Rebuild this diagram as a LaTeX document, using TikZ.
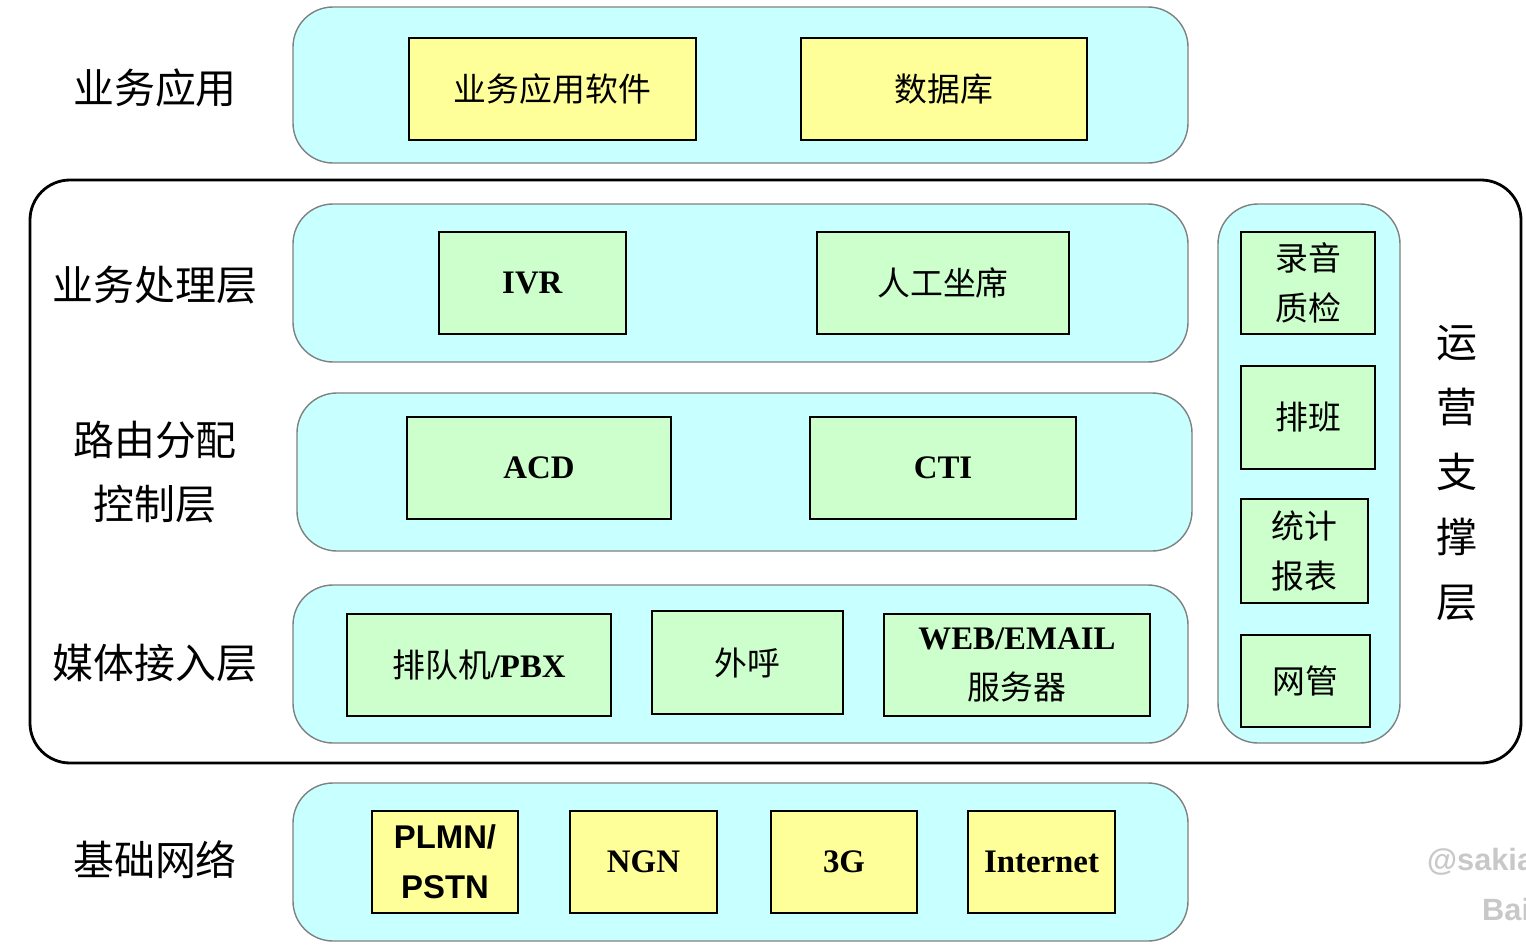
\documentclass[tikz,border=0pt]{standalone}
\usepackage{fontspec}
\setmainfont{Liberation Serif}
\newfontfamily\cjk{Noto Sans CJK SC}
\newfontfamily\arialfont{Liberation Sans}
\usetikzlibrary{positioning,fit}
\definecolor{layercyan}{HTML}{C8FFFF}
\definecolor{boxgreen}{HTML}{CCFFCC}
\definecolor{boxyellow}{HTML}{FFFF99}
\definecolor{markgray}{HTML}{C8C8C8}
\tikzset{
	layer/.style={rounded corners=0.8cm,fill=layercyan,draw=gray,line width=0.8pt,inner sep=0},
	frame/.style={rounded corners=0.8cm,draw=black,line width=1.6pt,inner sep=0},
	sz/.style 2 args={minimum width=#1*0.02cm,minimum height=#2*0.02cm},
	gbox/.style={fill=boxgreen,draw=black,line width=0.9pt,inner sep=0,align=center,font=\fontsize{18.7}{28.5}\selectfont},
	ybox/.style={gbox,fill=boxyellow},
	lbl/.style={align=center,font=\fontsize{23.3}{36}\selectfont\cjk},
	wmark/.style={anchor=west,text=markgray,font=\fontsize{17.5}{20}\selectfont\arialfont\bfseries}
}

\begin{document}
\begin{tikzpicture}[x=0.02cm,y=-0.02cm]
	\useasboundingbox (0,0) rectangle (1526,950);
	
	%%%outer frame
	\node[frame,fit={(30,180) (1521,763)}] (outer) {};
	
	%%%layers
	\node[layer,fit={(293,7) (1188,163)}] (app) {};
	\node[layer,fit={(293,204) (1188,362)}] (proc) {};
	\node[layer,fit={(297,393) (1192,551)}] (route) {};
	\node[layer,fit={(293,585) (1188,743)}] (media) {};
	\node[layer,fit={(293,783) (1188,941)}] (net) {};
	\node[layer,fit={(1218,204) (1400,743)}] (ops) {};
	
	%%%layer labels
	\node[lbl] (l-app) at (155,88) {业务应用};
	\node[lbl] (l-proc) at (155,285) {业务处理层};
	\node[lbl] (l-route) at (155,472) {路由分配\\控制层};
	\node[lbl] (l-media) at (155,663) {媒体接入层};
	\node[lbl] (l-net) at (155,860) {基础网络};
	\node[lbl,font=\fontsize{23.3}{37}\selectfont\cjk] (l-ops) at (1457,473) {运\\营\\支\\撑\\层};
	
	%%%business application
	\node[ybox,sz={287}{102}] (soft) at (552.5,89) {\cjk 业务应用软件};
	\node[ybox,sz={286}{102}] (db) at (944,89) {\cjk 数据库};
	
	%%%business processing
	\node[gbox,sz={187}{102}] (ivr) at (532.5,283) {\textbf{IVR}};
	\node[gbox,sz={252}{102}] (agent) at (943,283) {\cjk 人工坐席};
	
	%%%routing
	\node[gbox,sz={264}{102}] (acd) at (539,468) {\textbf{ACD}};
	\node[gbox,sz={266}{102}] (cti) at (943,468) {\textbf{CTI}};
	
	%%%media access
	\node[gbox,sz={264}{102}] (pbx) at (479,665) {{\cjk 排队机}\textbf{/PBX}};
	\node[gbox,sz={191}{103}] (call) at (747.5,662.5) {\cjk 外呼};
	\node[gbox,sz={266}{102}] (web) at (1017,665) {\textbf{WEB/EMAIL}\\{\cjk 服务器}};
	
	%%%operation support
	\node[gbox,sz={134}{102}] (rec) at (1308,283) {\cjk 录音\\\cjk 质检};
	\node[gbox,sz={134}{103}] (shift) at (1308,417.5) {\cjk 排班};
	\node[gbox,sz={127}{104}] (stat) at (1304.5,551) {\cjk 统计\\\cjk 报表};
	\node[gbox,sz={129}{92}] (nms) at (1305.5,681) {\cjk 网管};
	
	%%%base network
	\node[ybox,sz={146}{102}] (pstn) at (445,862) {\arialfont\bfseries PLMN/\\\arialfont\bfseries PSTN};
	\node[ybox,sz={147}{102}] (ngn) at (643.5,862) {\textbf{NGN}};
	\node[ybox,sz={146}{102}] (3g) at (844,862) {\textbf{3G}};
	\node[ybox,sz={147}{102}] (inet) at (1041.5,862) {\textbf{Internet}};
	
	%%%watermark
	\node[wmark] (wm1) at (1421,862) {@sakia};
	\node[wmark] (wm2) at (1476,910) {Bai};
\end{tikzpicture}
\end{document}
